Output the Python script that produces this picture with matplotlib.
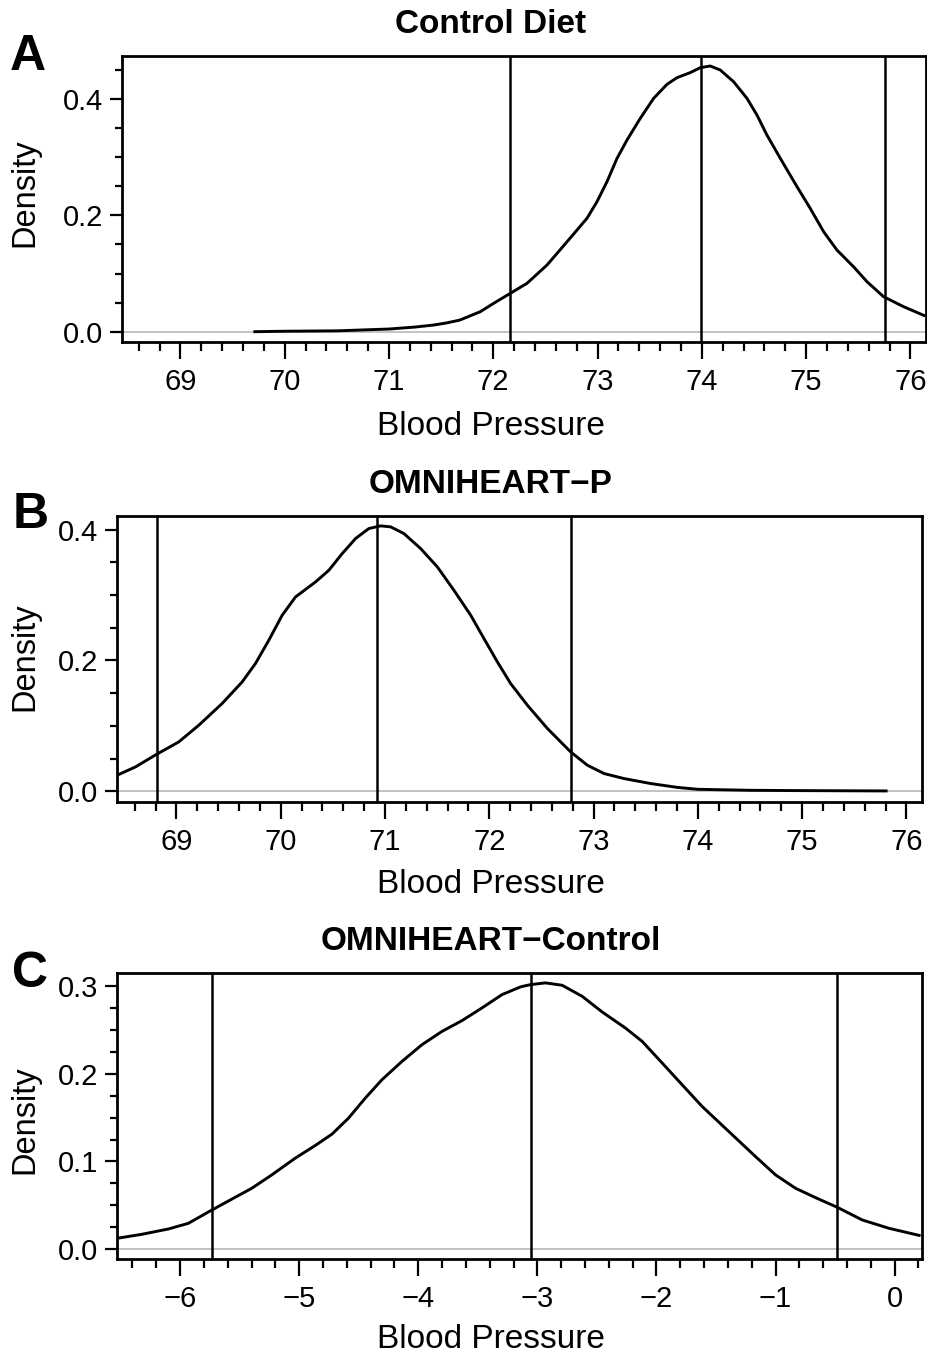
import matplotlib.pyplot as plt
from matplotlib.ticker import MultipleLocator

plt.rcParams["font.family"] = ["Liberation Sans", "DejaVu Sans"]

# Panel A: control diet posterior density
control_x = [69.70, 70.0, 70.5, 71.0, 71.25, 71.43, 71.55, 71.68, 71.876, 72.004,
             72.148, 72.324, 72.516, 72.708, 72.899, 72.995, 73.091, 73.187, 73.283,
             73.410, 73.538, 73.666, 73.762, 73.890, 73.986, 74.081, 74.177, 74.305,
             74.433, 74.529, 74.625, 74.753, 74.913, 75.040, 75.168, 75.296, 75.455,
             75.584, 75.743, 75.935, 76.143]
control_y = [0.0, 0.0008, 0.0015, 0.0046, 0.008, 0.0115, 0.015, 0.020, 0.0344, 0.0488,
             0.0643, 0.0832, 0.1147, 0.1547, 0.195, 0.2235, 0.258, 0.298, 0.3296,
             0.3668, 0.4012, 0.4253, 0.4367, 0.4455, 0.4539, 0.4568, 0.4499, 0.4298,
             0.4012, 0.3725, 0.338, 0.298, 0.2493, 0.212, 0.172, 0.1404, 0.1117,
             0.086, 0.0602, 0.043, 0.027]
control_lines = [72.16, 73.99, 75.76]

# Panel B: OMNIHEART-P posterior density
omni_x = [68.431, 68.607, 68.805, 69.022, 69.214, 69.438, 69.630, 69.758, 69.886,
          70.014, 70.142, 70.334, 70.462, 70.590, 70.718, 70.845, 70.958, 71.054,
          71.181, 71.342, 71.502, 71.661, 71.822, 71.949, 72.078, 72.205, 72.366,
          72.558, 72.781, 72.941, 73.101, 73.293, 73.549, 73.8, 74.0, 74.5, 75.0,
          75.82]
omni_y = [0.0245, 0.0372, 0.0561, 0.0754, 0.1009, 0.1341, 0.1671, 0.1953, 0.2309,
          0.2691, 0.2971, 0.320, 0.3379, 0.3634, 0.3864, 0.4016, 0.4057, 0.4042,
          0.394, 0.371, 0.343, 0.3073, 0.2691, 0.2335, 0.1977, 0.1647, 0.1315,
          0.0959, 0.0601, 0.0398, 0.0271, 0.0194, 0.0118, 0.006, 0.003, 0.0015, 0.001,
          0.0005]
omni_lines = [68.81, 70.92, 72.78]

# Panel C: difference OMNIHEART - control
diff_x = [-6.532, -6.322, -6.098, -5.930, -5.742, -5.594, -5.398, -5.230, -5.034,
          -4.866, -4.725, -4.586, -4.445, -4.305, -4.137, -3.969, -3.801, -3.633,
          -3.465, -3.297, -3.140, -3.059, -2.933, -2.792, -2.624, -2.456, -2.261,
          -2.120, -1.952, -1.784, -1.616, -1.392, -1.168, -1.000, -0.832, -0.664,
          -0.482, -0.272, -0.048, 0.218]
diff_y = [0.0122, 0.0168, 0.0229, 0.0294, 0.0439, 0.0549, 0.0694, 0.0847, 0.1037,
          0.1182, 0.1312, 0.1495, 0.1724, 0.1934, 0.2143, 0.2334, 0.2486, 0.2609,
          0.2754, 0.2906, 0.2995, 0.302, 0.304, 0.3013, 0.2887, 0.2708, 0.2525,
          0.2372, 0.2125, 0.1876, 0.1628, 0.1342, 0.1056, 0.0847, 0.0694, 0.0587,
          0.0477, 0.0332, 0.0237, 0.0152]
diff_lines = [-5.73, -3.05, -0.48]

W, H = 927, 1357


def fx(px):
    return px / W


def fy(py):
    return 1 - py / H


def panel(box, x, y, vlines, xlim, ylim, ymajor, yminor, title,
          letter, title_y, label_y, letter_xy, dens_y):
    l, t, r, b = box
    ax = fig.add_axes([fx(l), fy(b), fx(r) - fx(l), fy(t) - fy(b)])
    ax.axhline(0, color="#BEBEBE", lw=1.3, zorder=1)
    for v in vlines:
        ax.axvline(v, color="black", lw=1.8, zorder=2)
    ax.plot(x, y, color="black", lw=2.1, zorder=3, solid_joinstyle="round",
            solid_capstyle="butt")
    ax.set_xlim(xlim)
    ax.set_ylim(ylim)
    ax.xaxis.set_major_locator(MultipleLocator(1))
    ax.xaxis.set_minor_locator(MultipleLocator(0.2))
    ax.yaxis.set_major_locator(MultipleLocator(ymajor))
    ax.yaxis.set_minor_locator(MultipleLocator(yminor))
    ax.yaxis.set_major_formatter(lambda v, p: f"{v:.1f}")
    ax.xaxis.set_major_formatter(lambda v, p: f"{v:.0f}".replace("-", "\u2212"))
    for s in ax.spines.values():
        s.set_linewidth(2.0)
    ax.tick_params(axis="x", which="major", length=12.5, width=1.6, pad=6,
                   labelsize=21)
    ax.tick_params(axis="x", which="minor", length=6.5, width=1.6)
    ax.tick_params(axis="y", which="major", length=8.6, width=1.6, pad=5,
                   labelsize=21)
    ax.tick_params(axis="y", which="minor", length=5, width=1.6)
    fig.text(fx(491), fy(title_y), title, ha="center", va="baseline",
             fontsize=24, fontweight="bold")
    fig.text(fx(491), fy(label_y), "Blood Pressure", ha="center",
             va="baseline", fontsize=24)
    fig.text(fx(letter_xy[0]), fy(letter_xy[1]), letter, ha="left",
             va="baseline", fontsize=36, fontweight="bold")
    fig.text(fx(25), fy(dens_y), "Density", ha="center", va="center",
             rotation=90, fontsize=23.5)
    return ax


fig = plt.figure(figsize=(W / 100, H / 100), dpi=100)

panel((122, 56, 926, 342), control_x, control_y, control_lines,
      (68.44, 76.15), (-0.0177, 0.474), 0.2, 0.05,
      "Control Diet", "A", 33, 435, (10, 70), 193)
panel((117, 516, 922, 802), omni_x, omni_y, omni_lines,
      (68.43, 76.15), (-0.0164, 0.4208), 0.2, 0.05,
      "OMNIHEART\u2212P", "B", 493, 893, (13, 528), 657)
panel((117, 973, 922, 1259), diff_x, diff_y, diff_lines,
      (-6.53, 0.23), (-0.0114, 0.3153), 0.1, 0.025,
      "OMNIHEART\u2212Control", "C", 950, 1348, (12, 987), 1120)

fig.savefig("out.png", dpi=100)
